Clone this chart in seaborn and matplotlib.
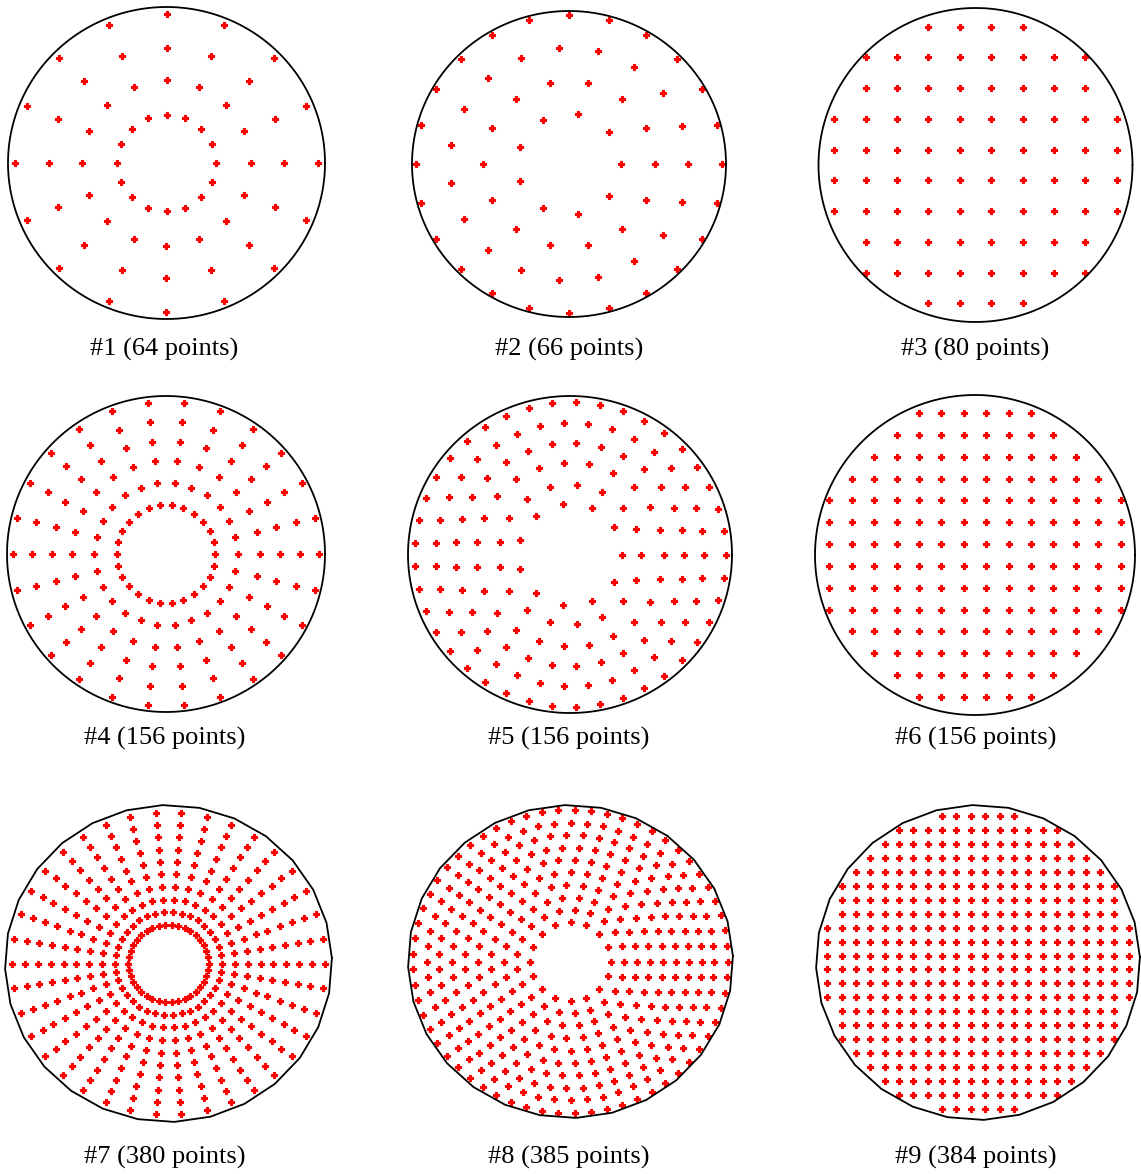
import numpy as np
import pandas as pd
import seaborn as sns
import matplotlib.pyplot as plt

sns.set_style('white')
plt.rcParams['font.family'] = ['Liberation Serif', 'DejaVu Serif']

# panel labels
labels = ['#1 (64 points)', '#2 (66 points)', '#3 (80 points)',
          '#4 (156 points)', '#5 (156 points)', '#6 (156 points)',
          '#7 (380 points)', '#8 (385 points)', '#9 (384 points)']

# ring layouts: radius (fraction of outline) and number of points per ring
p1_radii = [0.31, 0.53, 0.74, 0.955]
p1_counts = [16, 16, 16, 16]
p2_radii = [0.33, 0.545, 0.76, 0.975]
p2_counts = [9, 14, 19, 24]
p4_radii = [0.31, 0.45, 0.59, 0.715, 0.84, 0.965]
p4_counts = [26, 26, 26, 26, 26, 26]
p5_radii = [0.32, 0.44, 0.58, 0.705, 0.83, 0.96]
p5_counts = [11, 17, 23, 29, 35, 41]
p7_radii = [0.245, 0.325, 0.405, 0.485, 0.565, 0.64, 0.72, 0.80, 0.875, 0.955]
p7_counts = [38, 38, 38, 38, 38, 38, 38, 38, 38, 38]
p8_radii = [0.25, 0.33, 0.41, 0.49, 0.57, 0.65, 0.73, 0.81, 0.885, 0.97]
p8_counts = [16, 21, 26, 31, 36, 41, 46, 51, 56, 61]

# grid layouts: column positions, row positions, points per row (centred)
p3_cols = [-0.9, -0.7, -0.5, -0.3, -0.1, 0.1, 0.3, 0.5, 0.7, 0.9]
p3_rows = [0.88, 0.685, 0.49, 0.295, 0.098, -0.098, -0.295, -0.49, -0.685, -0.88]
p3_row_counts = [4, 8, 8, 10, 10, 10, 10, 8, 8, 4]

p6_cols = [-0.91, -0.77, -0.63, -0.49, -0.35, -0.21, -0.07,
           0.07, 0.21, 0.35, 0.49, 0.63, 0.77, 0.91]
p6_rows = [0.8875, 0.751, 0.614, 0.478, 0.341, 0.205, 0.068,
           -0.068, -0.205, -0.341, -0.478, -0.614, -0.751, -0.8875]
p6_row_counts = [6, 8, 10, 12, 14, 14, 14, 14, 14, 14, 12, 10, 8, 6]

p9_cols = [-0.93, -0.842, -0.753, -0.665, -0.576, -0.488, -0.399, -0.31, -0.222, -0.133, -0.044,
           0.044, 0.133, 0.222, 0.31, 0.399, 0.488, 0.576, 0.665, 0.753, 0.842, 0.93]
p9_rows = [0.927, 0.839, 0.751, 0.662, 0.574, 0.486, 0.397, 0.309, 0.221, 0.132, 0.044,
           -0.044, -0.132, -0.221, -0.309, -0.397, -0.486, -0.574, -0.662, -0.751, -0.839, -0.927]
p9_row_counts = [6, 12, 14, 16, 18, 20, 20, 20, 22, 22, 22,
                 22, 22, 22, 20, 20, 20, 18, 16, 14, 12, 6]


def rings(radii, counts):
    xs, ys = [], []
    for r, n in zip(radii, counts):
        a = np.arange(n) * 2 * np.pi / n
        xs += list(r * np.cos(a))
        ys += list(r * np.sin(a))
    return pd.DataFrame({'x': xs, 'y': ys})


def grid(cols, rows, row_counts):
    xs, ys = [], []
    for y, n in zip(rows, row_counts):
        start = (len(cols) - n) // 2
        for x in cols[start:start + n]:
            xs.append(x)
            ys.append(y)
    return pd.DataFrame({'x': xs, 'y': ys})


panels = [rings(p1_radii, p1_counts), rings(p2_radii, p2_counts), grid(p3_cols, p3_rows, p3_row_counts),
          rings(p4_radii, p4_counts), rings(p5_radii, p5_counts), grid(p6_cols, p6_rows, p6_row_counts),
          rings(p7_radii, p7_counts), rings(p8_radii, p8_counts), grid(p9_cols, p9_rows, p9_row_counts)]

# pixel boxes of each outline: centre x, centre y, radius x, radius y
boxes = [(166.5, 163, 158.5, 156), (569, 164, 157, 153), (975.5, 165, 157, 157),
         (166, 554, 159, 158), (570, 554.5, 162, 158.5), (975, 555, 160, 160),
         (168.5, 963.5, 163.5, 158.5), (570.5, 961.5, 162.5, 156.5), (978, 962.5, 162, 157.5)]
label_pos = [(164, 349), (569, 349), (975, 349),
             (164.5, 738), (569, 738), (976, 738),
             (164.5, 1157), (569, 1157), (976, 1157)]

W, H = 1141, 1174
fig = plt.figure(figsize=(W / 100, H / 100), dpi=100)

for i, (df, (cx, cy, rx, ry)) in enumerate(zip(panels, boxes)):
    ax = fig.add_axes([(cx - rx) / W, 1 - (cy + ry) / H, 2 * rx / W, 2 * ry / H])
    # outline: smooth for top rows, polygon for the bottom row
    nseg = 200 if i < 6 else 28
    t = np.linspace(0, 2 * np.pi, nseg + 1) + (0 if i < 6 else np.radians(2))
    ax.plot(np.cos(t), np.sin(t), color='black', lw=1.3, clip_on=False)
    sns.scatterplot(data=df, x='x', y='y', ax=ax, color='red', marker='P',
                    s=24, linewidth=0.8, edgecolor='red', legend=False)
    ax.set_xlim(-1, 1)
    ax.set_ylim(-1, 1)
    ax.axis('off')
    lx, ly = label_pos[i]
    fig.text(lx / W, 1 - ly / H, labels[i], ha='center', va='center',
             fontsize=19, color='black')

plt.savefig('out.png', dpi=100)
